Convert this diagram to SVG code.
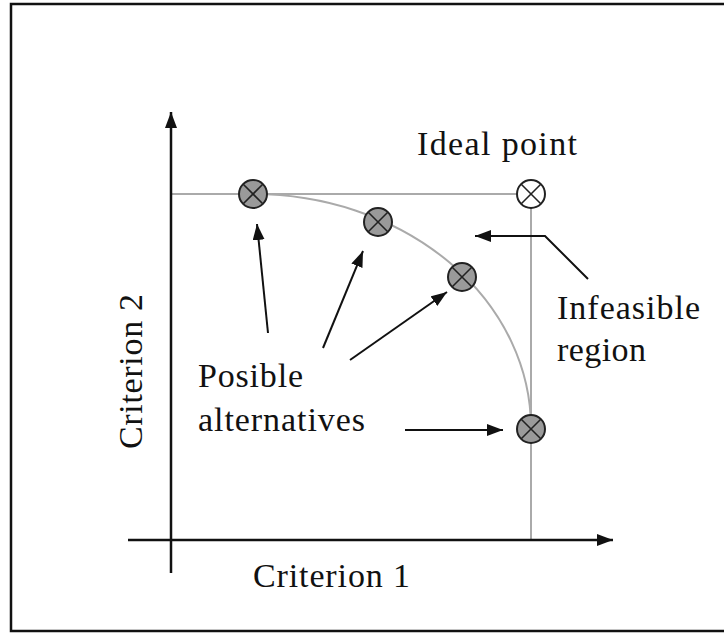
<svg xmlns="http://www.w3.org/2000/svg" width="724" height="633" viewBox="0 0 724 633">
<style>
.lbl{font-family:'Liberation Serif','Times New Roman',Times,serif;font-size:34px;fill:#111}
.axis{stroke:#111;stroke-width:2.5;fill:none}
.guide{stroke:#aaa;stroke-width:2;fill:none}
.arr{stroke:#111;stroke-width:2;fill:none;marker-end:url(#ah)}
.pt{fill:#9a9a9a;stroke:#222;stroke-width:2}
.ideal{fill:#fff;stroke:#222;stroke-width:2}
.x{stroke:#222;stroke-width:1.6}
</style>
<defs>
<marker id="ah" markerUnits="userSpaceOnUse" markerWidth="18" markerHeight="14" refX="16" refY="6" orient="auto">
<path d="M0,0 L16,6 L0,12 Z" fill="#111"/>
</marker>
<g id="cross"><line class="x" x1="-10" y1="-10" x2="10" y2="10"/><line class="x" x1="-10" y1="10" x2="10" y2="-10"/></g>
</defs>
<rect width="724" height="633" fill="#fff"/>
<path d="M726,4 H11 V631 H726" fill="none" stroke="#111" stroke-width="2.5"/>
<g id="connectors">
<line class="guide" x1="171" y1="194" x2="531" y2="194"/>
<line class="guide" x1="531" y1="194" x2="531" y2="540"/>
<path class="guide" d="M253,194 A278,234 0 0 1 531,428"/>
<line class="axis" x1="171" y1="573" x2="171" y2="112" marker-end="url(#ah)"/>
<line class="axis" x1="128" y1="540" x2="613" y2="540" marker-end="url(#ah)"/>
<line class="arr" x1="268" y1="333" x2="257" y2="224"/>
<line class="arr" x1="323" y1="348" x2="363" y2="251"/>
<line class="arr" x1="350" y1="360" x2="447" y2="292"/>
<line class="arr" x1="405" y1="430" x2="503" y2="430"/>
<polyline class="arr" points="588,279 545,236 475,236"/>
</g>
<g id="ideal-point">
<circle class="ideal" cx="531" cy="194" r="14"/>
<use href="#cross" x="531" y="194"/>
</g>
<g id="alt1"><circle class="pt" cx="253" cy="194" r="14"/><use href="#cross" x="253" y="194"/></g>
<g id="alt2"><circle class="pt" cx="378" cy="222" r="14"/><use href="#cross" x="378" y="222"/></g>
<g id="alt3"><circle class="pt" cx="462" cy="277" r="14"/><use href="#cross" x="462" y="277"/></g>
<g id="alt4"><circle class="pt" cx="531" cy="429" r="14"/><use href="#cross" x="531" y="429"/></g>
<g id="labels">
<text class="lbl" x="417" y="155" textLength="160" lengthAdjust="spacing">Ideal point</text>
<text class="lbl" x="557" y="319" textLength="143" lengthAdjust="spacing">Infeasible</text>
<text class="lbl" x="557" y="361" textLength="89" lengthAdjust="spacing">region</text>
<text class="lbl" x="198" y="387" textLength="105" lengthAdjust="spacing">Posible</text>
<text class="lbl" x="198" y="431" textLength="167" lengthAdjust="spacing">alternatives</text>
<text class="lbl" x="253" y="587" textLength="157" lengthAdjust="spacing">Criterion 1</text>
<text class="lbl" transform="translate(142,449) rotate(-90)" textLength="155" lengthAdjust="spacing">Criterion 2</text>
</g>
</svg>
